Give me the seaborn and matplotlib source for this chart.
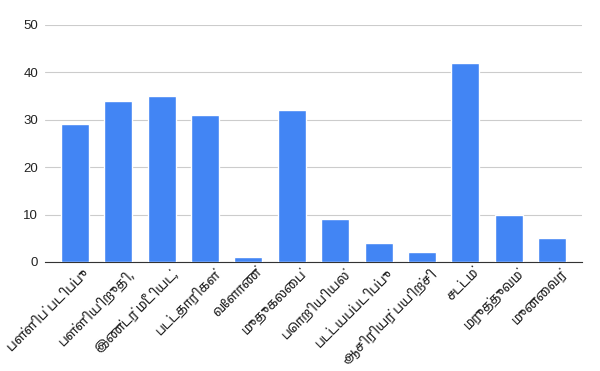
import matplotlib
matplotlib.use("Agg")
import matplotlib.pyplot as plt
import matplotlib.font_manager as fm
import matplotlib.transforms as mtrans
import seaborn as sns
import pandas as pd

categories = ['பள்ளிப் படிப்பு', 'பள்ளியிறுதி,', 'இண்டர் மீடியட்,', 'பட்டதாரிகள்',
              'வேளாண்', 'முதுகலைப்', 'பொறியியல்', 'பட்டயப்படிப்பு',
              'ஆசிரியர் பயிற்சி', 'சட்டம்', 'மருத்துவம்', 'முனைவர்']
values = [29, 34, 35, 31, 1, 32, 9, 4, 2, 42, 10, 5]

# whatever tamil font is installed
tamil = sorted(set(f.name for f in fm.fontManager.ttflist if 'Tamil' in f.name or 'Lohit' in f.name))

df = pd.DataFrame({'cat': categories, 'val': values})

sns.set_style('white')
plt.rcParams['font.family'] = tamil + ['Liberation Sans', 'DejaVu Sans']

fig = plt.figure(figsize=(6, 3.71), dpi=100)
ax = fig.add_axes([0.075, 0.294, 0.895, 0.639])

sns.barplot(data=df, x='cat', y='val', color='#4285f4', saturation=1, width=0.645, ax=ax, zorder=3)

ax.set_ylim(0, 50)
ax.set_xlim(-0.69, 11.69)
ax.set_yticks([0, 10, 20, 30, 40, 50])
ax.yaxis.grid(True, color='#cccccc', linewidth=0.8, zorder=0)
ax.set_xlabel('')
ax.set_ylabel('')
for s in ['top', 'right', 'left']:
    ax.spines[s].set_visible(False)
ax.spines['bottom'].set_color('#333333')
ax.tick_params(axis='both', length=0, colors='#222222')
ax.tick_params(axis='x', labelsize=9.5)
ax.tick_params(axis='y', labelsize=9.5, pad=5)
for lab in ax.get_yticklabels():
    lab.set_family(['Liberation Sans', 'DejaVu Sans'])

# rotated labels, nudged a bit to the right like the original
shift = mtrans.ScaledTranslation(8 / 100, 0, fig.dpi_scale_trans)
for lab in ax.get_xticklabels():
    lab.set_rotation(45)
    lab.set_ha('right')
    lab.set_rotation_mode('anchor')
    lab.set_transform(lab.get_transform() + shift)

fig.savefig('out.png', dpi=100)
